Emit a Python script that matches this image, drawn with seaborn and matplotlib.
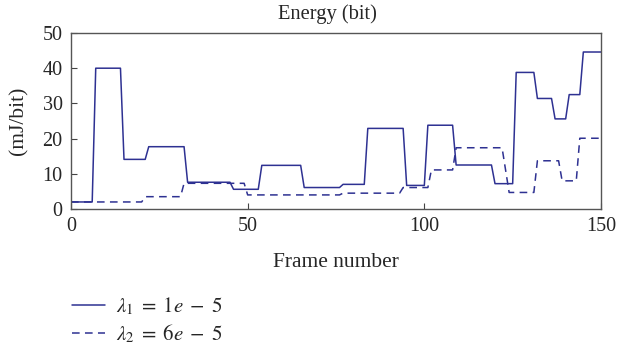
import pandas as pd
import matplotlib
matplotlib.use("Agg")
import matplotlib.pyplot as plt
import seaborn as sns

# --- DATA (polyline vertices) ---
frames_l1 = [0, 6, 7, 14, 15, 21, 22, 32, 33, 45, 46, 53, 54, 65, 66, 76, 77, 83, 84,
             94, 95, 100, 101, 108, 109, 119, 120, 125, 126, 131, 132, 136, 137, 140,
             141, 144, 145, 150]
energy_l1 = [2.0, 2.0, 40.0, 40.0, 14.1, 14.1, 17.7, 17.7, 7.6, 7.6, 5.6, 5.6, 12.4,
             12.4, 6.1, 6.1, 7.0, 7.0, 22.9, 22.9, 6.7, 6.7, 23.8, 23.8, 12.5, 12.5,
             7.2, 7.2, 38.8, 38.8, 31.4, 31.4, 25.6, 25.6, 32.5, 32.5, 44.6, 44.6]

frames_l2 = [0, 20, 21, 31, 32, 49, 50, 76, 77, 93, 94, 101, 102, 108, 109, 122, 124,
             131, 132, 138, 139, 143, 144, 150]
energy_l2 = [2.0, 2.0, 3.5, 3.5, 7.3, 7.3, 4.0, 4.0, 4.5, 4.5, 6.1, 6.1, 11.1, 11.1,
             17.4, 17.4, 4.7, 4.7, 13.7, 13.7, 8.0, 8.0, 20.1, 20.1]

labels = [r"$\lambda_1\;=\;1e\;-\;5$", r"$\lambda_2\;=\;6e\;-\;5$"]

LINE_COLOR = "#2e3192"


def main():
    sns.set_style("ticks")
    plt.rcParams["font.family"] = ["Liberation Serif", "DejaVu Serif"]
    plt.rcParams["mathtext.fontset"] = "stix"
    plt.rcParams["xtick.direction"] = "in"
    plt.rcParams["ytick.direction"] = "in"

    df1 = pd.DataFrame({"frame": frames_l1, "energy": energy_l1})
    df2 = pd.DataFrame({"frame": frames_l2, "energy": energy_l2})

    fig = plt.figure(figsize=(6.18, 3.47), dpi=100)
    ax = fig.add_axes([71 / 618, 1 - 209 / 347, 530 / 618, 176 / 347])

    sns.lineplot(data=df1, x="frame", y="energy", ax=ax, color=LINE_COLOR,
                 linewidth=1.1, label=labels[0])
    sns.lineplot(data=df2, x="frame", y="energy", ax=ax, color=LINE_COLOR,
                 linewidth=1.1, linestyle=(0, (5, 3.5)), label=labels[1])

    ax.set_xlim(0, 150)
    ax.set_ylim(0, 50)
    ax.set_xticks([0, 50, 100, 150])
    ax.set_yticks([0, 10, 20, 30, 40, 50])
    ax.tick_params(labelsize=14.5, length=4, width=0.8, color="#444444", pad=6)
    for sp in ax.spines.values():
        sp.set_visible(True)
        sp.set_color("#555555")
        sp.set_linewidth(1.0)

    # title sits slightly left of the axes centre in the reference
    ax.set_title("Energy (bit)", fontsize=14.8, pad=10, x=0.483)
    ax.set_xlabel("Frame number", fontsize=15.5, labelpad=12)
    ax.set_ylabel("(mJ/bit)", fontsize=15.5, labelpad=10)

    handles, labs = ax.get_legend_handles_labels()
    ax.legend_.remove()
    fig.legend(handles, labs, loc="center left", bbox_to_anchor=(53 / 618, 1 - 320 / 347),
               frameon=False, fontsize=15, handlelength=1.6, handletextpad=0.5,
               labelspacing=0.25)

    fig.savefig("out.png", dpi=100)
    plt.close(fig)


if __name__ == "__main__":
    main()
